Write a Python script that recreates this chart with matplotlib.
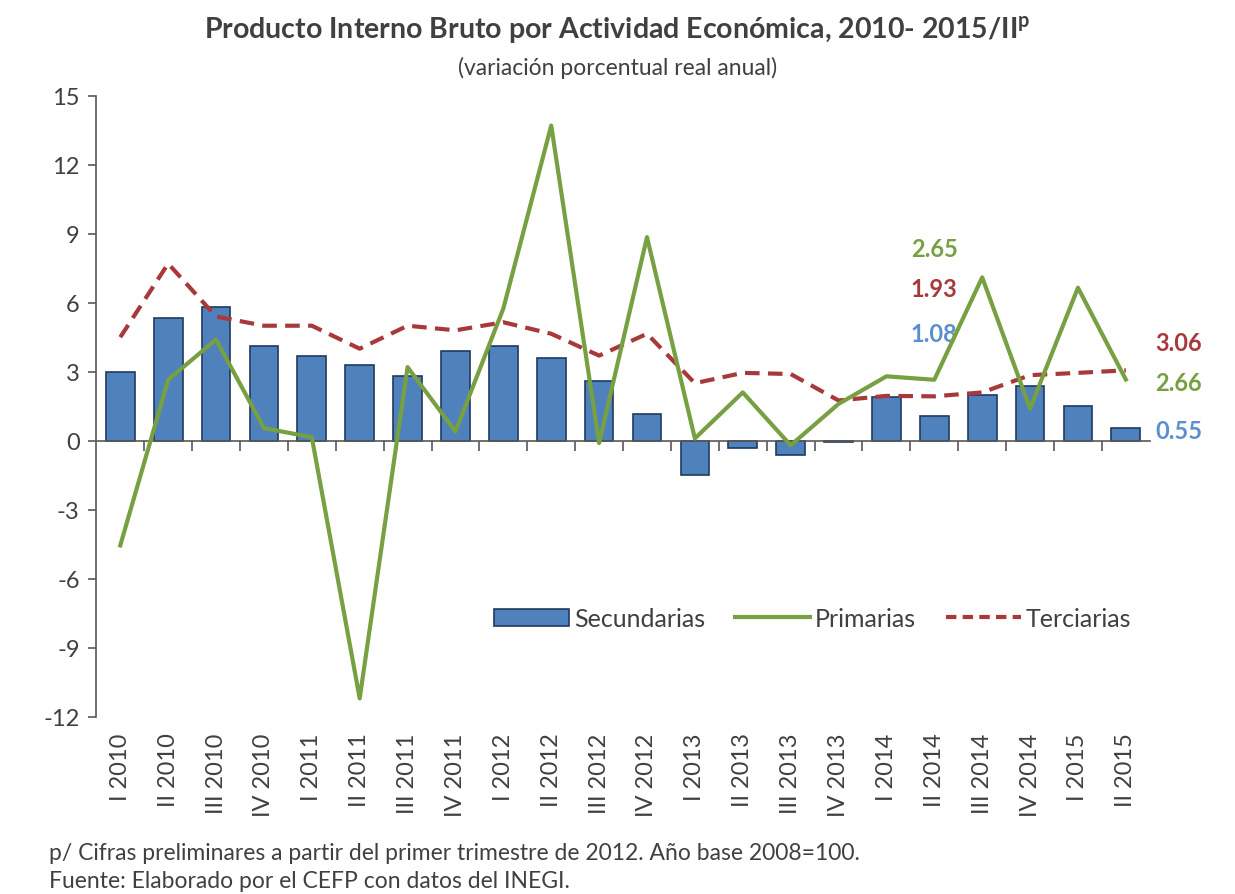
import matplotlib.pyplot as plt
import numpy as np
from matplotlib.patches import Patch
from matplotlib.lines import Line2D
import matplotlib.transforms as mtransforms

plt.rcParams['font.family'] = ['Lato', 'DejaVu Sans']
plt.rcParams['axes.unicode_minus'] = False

trimestres = ['I 2010', 'II 2010', 'III 2010', 'IV 2010',
              'I 2011', 'II 2011', 'III 2011', 'IV 2011',
              'I 2012', 'II 2012', 'III 2012', 'IV 2012',
              'I 2013', 'II 2013', 'III 2013', 'IV 2013',
              'I 2014', 'II 2014', 'III 2014', 'IV 2014',
              'I 2015', 'II 2015']
secundarias = [3.0, 5.35, 5.8, 4.1, 3.7, 3.3, 2.8, 3.9, 4.1, 3.6, 2.6, 1.15,
               -1.5, -0.3, -0.6, -0.05, 1.9, 1.08, 2.0, 2.4, 1.5, 0.55]
primarias = [-4.55, 2.65, 4.4, 0.55, 0.15, -11.2, 3.2, 0.4, 5.75, 13.7, -0.1, 8.85,
             0.1, 2.1, -0.2, 1.6, 2.8, 2.65, 7.1, 1.4, 6.65, 2.66]
terciarias = [4.5, 7.7, 5.4, 5.0, 5.0, 4.0, 5.0, 4.8, 5.15, 4.65, 3.7, 4.65,
              2.5, 2.95, 2.9, 1.75, 1.95, 1.93, 2.1, 2.85, 2.95, 3.06]

azul = '#4F81BD'
verde = '#77A043'
rojo = '#A8393B'
gris = '#404040'
eje = '#595959'

fig = plt.figure(figsize=(12.35, 8.95), dpi=100)
ax = fig.add_axes([0.078, 0.198, 0.853, 0.694])

x = np.arange(len(trimestres))
ax.bar(x, secundarias, width=0.6, color=azul, edgecolor='#1F3A5F', linewidth=1.2, zorder=2)
ax.plot(x, terciarias, color=rojo, linestyle=(0, (3.5, 2)), linewidth=3, zorder=3)
ax.plot(x, primarias, color=verde, linewidth=3, zorder=4)

ax.set_xlim(-0.5, len(trimestres) - 0.5)
ax.set_ylim(-12, 15)
ax.set_yticks(np.arange(-12, 16, 3))
ax.tick_params(axis='y', labelsize=17, labelcolor=gris, colors=eje, direction='out',
               length=6, width=1.2, pad=6)
for s in ['top', 'right']:
    ax.spines[s].set_visible(False)
ax.spines['left'].set_linewidth(1.2)
ax.spines['left'].set_color(eje)
ax.spines['bottom'].set_position(('data', 0))
ax.spines['bottom'].set_linewidth(1.2)
ax.spines['bottom'].set_color(eje)
ax.set_xticks(x[:-1] + 0.5)
ax.set_xticklabels([])
ax.tick_params(axis='x', direction='out', length=7, width=1.2, colors=eje)

trans = mtransforms.blended_transform_factory(ax.transData, ax.transAxes)
for xi, lab in zip(x, trimestres):
    ax.text(xi, -0.025, lab, transform=trans, rotation=90, ha='center', va='top',
            fontsize=17, color=gris)

# etiquetas de valores
etiquetas = [(17, 8.35, '2.65', verde), (17, 6.6, '1.93', rojo), (17, 4.65, '1.08', '#5B8FD0'),
             (22.1, 4.25, '3.06', rojo), (22.1, 2.55, '2.66', verde), (22.1, 0.45, '0.55', '#5B8FD0')]
for xi, yi, t, c in etiquetas:
    ax.text(xi, yi, t, color=c, fontsize=17, fontweight='bold', ha='center', va='center',
            clip_on=False)

handles = [Patch(facecolor=azul, edgecolor='#1F3A5F', linewidth=1.2),
           Line2D([0], [0], color=verde, linewidth=3),
           Line2D([0], [0], color=rojo, linestyle=(0, (2.5, 1.5)), linewidth=3)]
leg = ax.legend(handles, ['Secundarias', 'Primarias', 'Terciarias'], ncol=3, frameon=False,
                fontsize=18, loc='center', bbox_to_anchor=(0.68, 0.158), handlelength=3.0,
                handletextpad=0.2, columnspacing=1.2)
for t in leg.get_texts():
    t.set_color(gris)

fig.text(0.5, 0.966, 'Producto Interno Bruto por Actividad Económica, 2010- 2015/II$^{\\mathregular{p}}$',
         ha='center', va='center', fontsize=20.5, fontweight='bold', color=gris)
fig.text(0.5, 0.924, '(variación porcentual real anual)', ha='center', va='center', fontsize=16.5,
         color=gris)
fig.text(0.04, 0.046, 'p/ Cifras preliminares a partir del primer trimestre de 2012. Año base 2008=100.',
         ha='left', va='center', fontsize=16.5, color=gris)
fig.text(0.04, 0.015, 'Fuente: Elaborado por el CEFP con datos del INEGI.',
         ha='left', va='center', fontsize=16.5, color=gris)

fig.savefig('out.png', dpi=100)
